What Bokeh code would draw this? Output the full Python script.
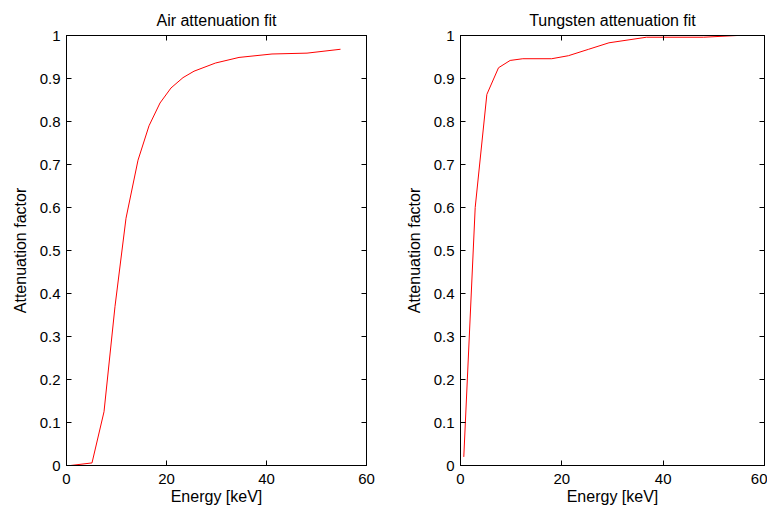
from bokeh.plotting import figure
from bokeh.models import LinearAxis, FixedTicker
from bokeh.layouts import row
from bokeh.embed import file_html
from bokeh.resources import INLINE

# Data
air_energy = [0.8, 5.1, 7.5, 9.7, 11.9, 14.3, 16.5, 18.7, 20.9, 23.3, 25.5, 29.8, 34.5, 41.1, 48.1, 54.8]
air_atten = [0.0, 0.006, 0.125, 0.37, 0.575, 0.71, 0.79, 0.843, 0.878, 0.902, 0.917, 0.936, 0.949, 0.957, 0.959, 0.968]

w_energy = [0.65, 2.9, 5.2, 7.5, 9.8, 12.3, 18.0, 21.3, 25.3, 29.3, 36.7, 48.0, 54.6]
w_atten = [0.02, 0.60, 0.863, 0.925, 0.942, 0.946, 0.946, 0.953, 0.968, 0.983, 0.996, 0.996, 1.0]

x_ticks = [0, 20, 40, 60]
x_labels = ["0", "20", "40", "60"]
y_ticks = [0, 0.1, 0.2, 0.3, 0.4, 0.5, 0.6, 0.7, 0.8, 0.9, 1]
y_labels = ["0", "0.1", "0.2", "0.3", "0.4", "0.5", "0.6", "0.7", "0.8", "0.9", "1"]

titles = ["Air attenuation fit", "Tungsten attenuation fit"]
x_label = "Energy [keV]"
y_label = "Attenuation factor"

FONT = "Liberation Sans"
TICK_FS = "15px"
LABEL_FS = "16px"


def style_axis(ax, ticks, labels, show_labels=True):
    ax.ticker = FixedTicker(ticks=ticks)
    ax.major_label_overrides = {t: l for t, l in zip(ticks, labels)}
    ax.major_tick_in = 5
    ax.major_tick_out = 0
    ax.major_tick_line_width = 1
    ax.minor_tick_line_color = None
    ax.axis_line_color = "black"
    ax.major_tick_line_color = "black"
    ax.major_label_text_font = FONT
    ax.major_label_text_font_size = TICK_FS
    ax.major_label_text_color = "black"
    ax.axis_label_text_font = FONT
    ax.axis_label_text_font_size = LABEL_FS
    ax.axis_label_text_font_style = "normal"
    ax.axis_label_text_color = "black"
    if not show_labels:
        ax.major_label_text_font_size = "0px"
        ax.major_label_standoff = 0
        ax.axis_label_standoff = 0
        ax.major_label_overrides = {t: "" for t in ticks}


def make(title, xs, ys, width, bl, br):
    p = figure(width=width, height=512, x_range=(0, 60), y_range=(0, 1),
               output_backend="svg", toolbar_location=None,
               min_border_left=bl, min_border_right=br,
               min_border_top=35, min_border_bottom=47)
    p.title.text = title
    p.title.align = "center"
    p.title.text_font = FONT
    p.title.text_font_size = LABEL_FS
    p.title.text_font_style = "normal"
    p.title.text_color = "black"
    p.title.standoff = 14
    p.grid.visible = False
    p.outline_line_color = "black"
    p.background_fill_color = "white"
    p.border_fill_color = "white"

    style_axis(p.xaxis[0], x_ticks, x_labels)
    style_axis(p.yaxis[0], y_ticks, y_labels)
    p.xaxis[0].axis_label = x_label
    p.yaxis[0].axis_label = y_label
    p.xaxis[0].major_label_standoff = 8
    p.xaxis[0].axis_label_standoff = 1
    p.yaxis[0].major_label_standoff = 6
    p.yaxis[0].axis_label_standoff = 8

    top = LinearAxis()
    style_axis(top, x_ticks, x_labels, show_labels=False)
    p.add_layout(top, "above")
    right = LinearAxis()
    style_axis(right, y_ticks, y_labels, show_labels=False)
    p.add_layout(right, "right")

    p.line(xs, ys, line_color="#ff0000", line_width=1)
    return p


p1 = make(titles[0], air_energy, air_atten, 400, 66, 34)
p2 = make(titles[1], w_energy, w_atten, 367, 60, 3)
layout = row(p1, p2)

open("out.html", "w").write(file_html(layout, INLINE))
